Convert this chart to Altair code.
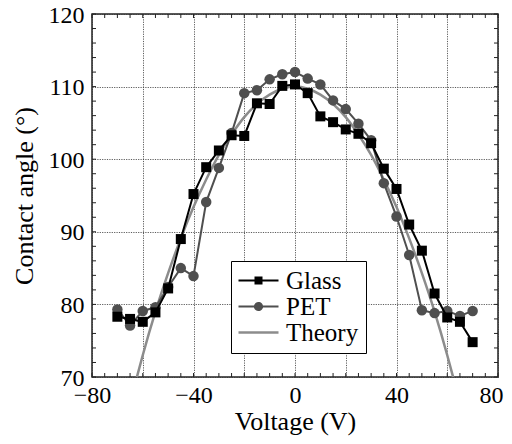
import altair as alt
import pandas as pd

# ---------------- data ----------------
voltage = [-70, -65, -60, -55, -50, -45, -40, -35, -30, -25, -20, -15, -10, -5, 0,
           5, 10, 15, 20, 25, 30, 35, 40, 45, 50, 55, 60, 65, 70]
glass = [78.3, 78.0, 77.6, 78.9, 82.2, 89.0, 95.2, 98.9, 101.2, 103.3, 103.2, 107.7,
         107.6, 110.1, 110.3, 109.1, 105.9, 105.1, 104.1, 103.5, 102.2, 98.7, 95.9,
         91.0, 87.4, 81.5, 78.2, 77.6, 74.8]
pet = [79.3, 77.1, 79.1, 79.6, 82.4, 85.0, 83.9, 94.1, 98.8, 103.6, 109.1, 109.5,
       111.0, 111.7, 112.0, 111.1, 110.3, 108.1, 106.9, 104.9, 102.6, 96.7, 92.1,
       86.8, 79.2, 78.8, 79.1, 78.4, 79.1]
theory_voltage = [-62.3, -60, -55, -50, -45, -40, -35, -30, -25, -20, -15, -10, -5, 0,
                  5, 10, 15, 20, 25, 30, 35, 40, 45, 50, 55, 60, 62.3]
theory = [70.0, 73.0, 79.0, 84.3, 89.1, 93.4, 97.2, 100.6, 103.4, 105.8, 107.6, 108.9,
          109.7, 110.0, 109.7, 108.9, 107.6, 105.8, 103.4, 100.6, 97.2, 93.4, 89.1,
          84.3, 79.0, 73.0, 70.0]
x_major = [-80, -60, -40, -20, 0, 20, 40, 60, 80]
y_major = [70, 80, 90, 100, 110, 120]
x_minor = list(range(-80, 81, 5))
y_minor = list(range(70, 121, 2))
series_names = ["Glass", "PET", "Theory"]
series_colors = ["#000000", "#4f4f4f", "#8c8c8c"]

# ---------------- styling ----------------
W, H = 406, 363
FONT = "Liberation Serif, DejaVu Serif, Times New Roman, serif"

# legend symbols: line + marker drawn as one filled path (10 px per unit)
glass_sym = "M-2,-0.1L2,-0.1L2,0.1L-2,0.1Z M-0.4,-0.4L0.4,-0.4L0.4,0.4L-0.4,0.4Z"
pet_sym = ("M-2,-0.1L2,-0.1L2,0.1L-2,0.1Z "
           "M-0.46,0A0.46,0.46,0,1,1,0.46,0A0.46,0.46,0,1,1,-0.46,0Z")
theory_sym = "M-2,-0.125L2,-0.125L2,0.125L-2,0.125Z"

meas = pd.DataFrame({"V": voltage, "Glass": glass, "PET": pet})
theo = pd.DataFrame({"V": theory_voltage, "angle": theory})
xm = pd.DataFrame({"t": x_minor})
ym = pd.DataFrame({"t": y_minor})
legend_df = pd.DataFrame({"series": series_names})

xscale = alt.Scale(domain=[-80, 80], nice=False, zero=False)
yscale = alt.Scale(domain=[70, 120], nice=False, zero=False)

axis_text = dict(labelFont=FONT, titleFont=FONT, labelFontSize=24, titleFontSize=26,
                 labelColor="black", titleColor="black", titleFontWeight="normal")

xaxis = alt.Axis(
    values=x_major,
    labelExpr="datum.value % 40 == 0 ? datum.label : ''",
    labelOffset={"condition": {"test": "datum.value == 80", "value": -7}, "value": 0},
    title="Voltage (V)", grid=True, ticks=False, domain=False,
    labelFlush=False, labelPadding=6, titlePadding=1, **axis_text)
yaxis = alt.Axis(values=y_major, title="Contact angle (°)", grid=True, ticks=False,
                 domain=False, labelFlush=False, labelPadding=8, labelOffset=1,
                 titlePadding=11, **axis_text)


def X(field):
    return alt.X(field, type="quantitative", scale=xscale, axis=xaxis)


def Y(field):
    return alt.Y(field, type="quantitative", scale=yscale, axis=yaxis)


theory_line = alt.Chart(theo).mark_line(
    color=series_colors[2], strokeWidth=2.5, interpolate="monotone", clip=True
).encode(x=X("V"), y=Y("angle"))

pet_line = alt.Chart(meas).mark_line(color=series_colors[1], strokeWidth=2).encode(
    x=X("V"), y=Y("PET"))
pet_pts = alt.Chart(meas).mark_point(
    shape="circle", filled=True, size=110, color=series_colors[1], opacity=1
).encode(x=X("V"), y=Y("PET"))

glass_line = alt.Chart(meas).mark_line(color=series_colors[0], strokeWidth=2).encode(
    x=X("V"), y=Y("Glass"))
glass_pts = alt.Chart(meas).mark_point(
    shape="square", filled=True, size=100, color=series_colors[0], opacity=1
).encode(x=X("V"), y=Y("Glass"))

tick_style = dict(color="#222222", strokeWidth=1)
bottom_ticks = alt.Chart(xm).mark_rule(**tick_style).encode(
    x=X("t"), y=alt.value(H), y2=alt.value(H - 4))
top_ticks = alt.Chart(xm).mark_rule(**tick_style).encode(
    x=X("t"), y=alt.value(0), y2=alt.value(4))
left_ticks = alt.Chart(ym).mark_rule(**tick_style).encode(
    y=Y("t"), x=alt.value(0), x2=alt.value(4))
right_ticks = alt.Chart(ym).mark_rule(**tick_style).encode(
    y=Y("t"), x=alt.value(W), x2=alt.value(W - 4))

leg = alt.Legend(orient="none", legendX=139, legendY=247, title=None,
                 strokeColor="black", fillColor="white", padding=7,
                 labelFont=FONT, labelFontSize=25, labelColor="black",
                 symbolSize=400, symbolOffset=8, symbolStrokeWidth=0, symbolOpacity=1,
                 labelOffset=15, rowPadding=0)
legend_layer = alt.Chart(legend_df).mark_point(filled=True, opacity=0).encode(
    x=alt.value(0), y=alt.value(0),
    color=alt.Color("series:N", scale=alt.Scale(domain=series_names, range=series_colors),
                    legend=leg),
    shape=alt.Shape("series:N", scale=alt.Scale(domain=series_names,
                                                range=[glass_sym, pet_sym, theory_sym]),
                    legend=leg),
)

chart = alt.layer(
    bottom_ticks, top_ticks, left_ticks, right_ticks,
    theory_line, pet_line, pet_pts, glass_line, glass_pts, legend_layer
).properties(
    width=W, height=H,
    autosize=alt.AutoSizeParams(type="none"),
    padding={"left": 84, "top": 6, "right": 6, "bottom": 59},
    background="white",
).configure(
    font=FONT
).configure_view(
    stroke="#222222", strokeWidth=1.5
).configure_axis(
    gridColor="#333333", gridDash=[1.2, 1.2], gridWidth=0.8, gridOpacity=1,
)

chart.save("out.html", embed_options={"renderer": "svg", "actions": False})
